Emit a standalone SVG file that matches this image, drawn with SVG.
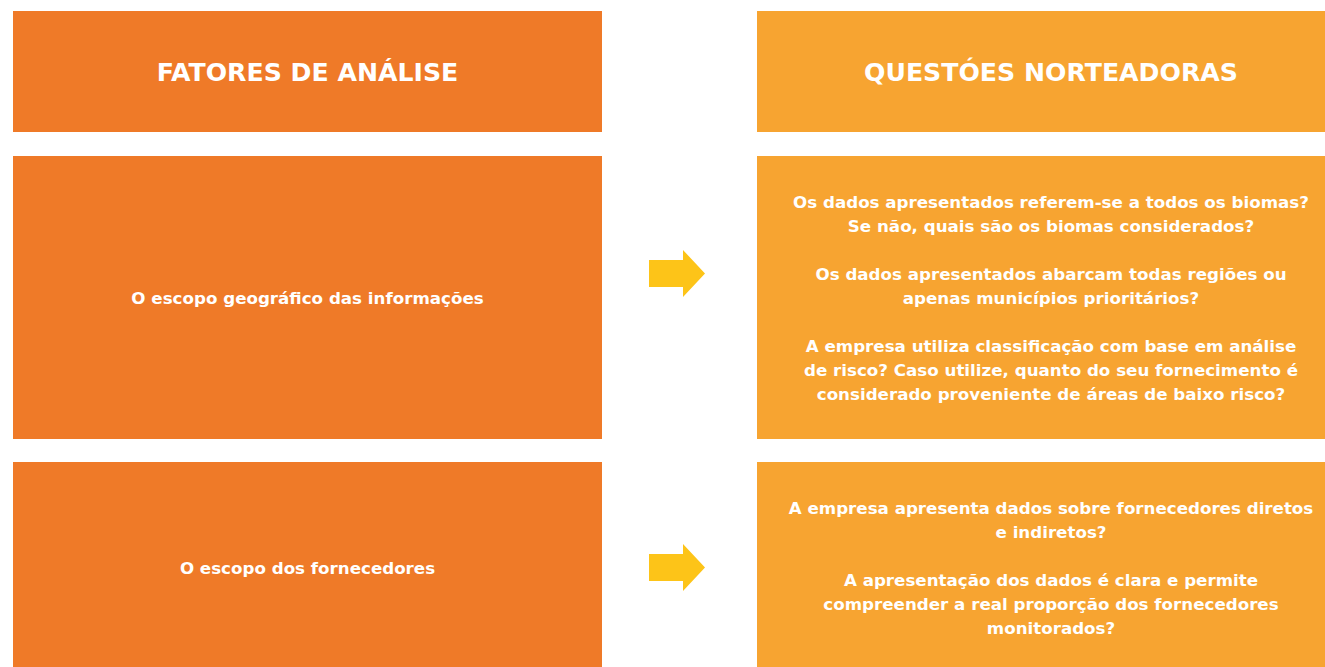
<svg xmlns="http://www.w3.org/2000/svg" width="1325" height="667" viewBox="0 0 1325 667">
<style>
.l{fill:#EF7A28}
.r{fill:#F7A431}
.h{font-family:"DejaVu Sans","Liberation Sans",sans-serif;font-weight:bold;font-size:25.2px;fill:#fff;text-anchor:middle}
.t{font-family:"DejaVu Sans","Liberation Sans",sans-serif;font-weight:bold;font-size:16.7px;fill:#fff;text-anchor:middle}
.a{fill:#FDC418}
</style>
<rect width="1325" height="667" fill="#fff"/>
<g id="hdr-left"><rect class="l" x="13" y="11" width="589" height="121"/><text class="h" x="307.5" y="81">FATORES DE ANÁLISE</text></g>
<g id="hdr-right"><rect class="r" x="757" y="11" width="568" height="121"/><text class="h" x="1051" y="81">QUESTÓES NORTEADORAS</text></g>
<g id="fator-geo"><rect class="l" x="13" y="156" width="589" height="283"/><text class="t" x="307.5" y="304">O escopo geográfico das informações</text></g>
<g id="quest-geo"><rect class="r" x="757" y="156" width="568" height="283"/>
<text class="t" x="1051" y="208">Os dados apresentados referem-se a todos os biomas?</text>
<text class="t" x="1051" y="232">Se não, quais são os biomas considerados?</text>
<text class="t" x="1051" y="280">Os dados apresentados abarcam todas regiões ou</text>
<text class="t" x="1051" y="304">apenas municípios prioritários?</text>
<text class="t" x="1051" y="352">A empresa utiliza classificação com base em análise</text>
<text class="t" x="1051" y="376">de risco? Caso utilize, quanto do seu fornecimento é</text>
<text class="t" x="1051" y="400">considerado proveniente de áreas de baixo risco?</text>
</g>
<g id="fator-forn"><rect class="l" x="13" y="462" width="589" height="205"/><text class="t" x="307.5" y="574">O escopo dos fornecedores</text></g>
<g id="quest-forn"><rect class="r" x="757" y="462" width="568" height="205"/>
<text class="t" x="1051" y="514">A empresa apresenta dados sobre fornecedores diretos</text>
<text class="t" x="1051" y="538">e indiretos?</text>
<text class="t" x="1051" y="586">A apresentação dos dados é clara e permite</text>
<text class="t" x="1051" y="610">compreender a real proporção dos fornecedores</text>
<text class="t" x="1051" y="634">monitorados?</text>
</g>
<g id="connectors">
<polygon class="a" points="649,260 683,260 683,250 705,273.5 683,297 683,287 649,287"/>
<polygon class="a" points="649,554 683,554 683,544 705,567.5 683,591 683,581 649,581"/>
</g>
</svg>
